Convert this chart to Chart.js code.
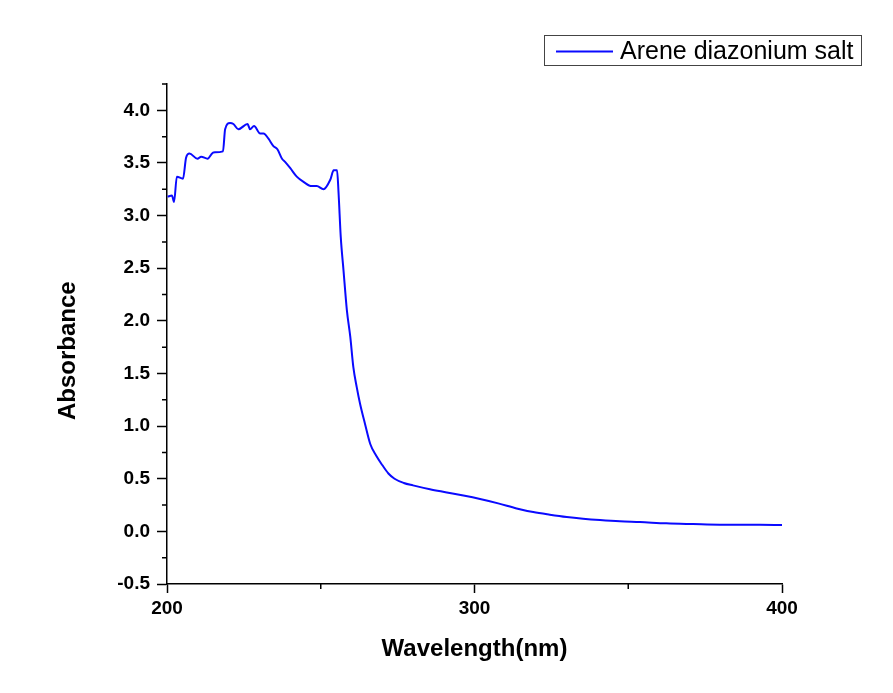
<!DOCTYPE html>
<html>
<head>
<meta charset="utf-8">
<title>Arene diazonium salt - UV-Vis</title>
<script src="https://cdn.jsdelivr.net/npm/chart.js@4.4.1/dist/chart.umd.min.js"></script>
<style>
  html, body { margin: 0; padding: 0; background: #fff; }
  #wrap { width: 893px; height: 693px; }
</style>
</head>
<body>
<div id="wrap"><canvas id="uv-chart" width="893" height="693"></canvas></div>
<script>
// values
const seriesLabel = 'Arene diazonium salt';
const wavelength = [
  200.2, 201.6, 202.3, 203.2, 205.2, 206.2, 207.3, 209.9, 211.1, 213.2,
  215.1, 218.2, 218.9, 220.5, 221.6, 223.2, 226.2, 227.0, 228.3, 230.3,
  231.4, 233.0, 234.6, 235.9, 237.4, 238.4, 240.1, 242.2, 244.4, 247.1,
  248.7, 250.9, 253.1, 254.2, 255.3, 255.8, 256.5, 257.4, 258.5, 259.6,
  260.6, 261.7, 262.8, 264.4, 266.1, 268.0, 270.0, 272.0, 274.0, 277.0,
  280.0, 285.5, 291.0, 296.4, 301.8, 307.7, 313.7, 319.1, 324.5, 330.0,
  335.3, 340.8, 347.3, 353.8, 362.4, 371.1, 379.8, 392.8, 400.0
];
const absorbance = [
  3.18, 3.19, 3.13, 3.37, 3.35, 3.55, 3.59, 3.54, 3.56, 3.54,
  3.60, 3.61, 3.82, 3.88, 3.87, 3.82, 3.87, 3.82, 3.85, 3.78,
  3.78, 3.73, 3.66, 3.63, 3.54, 3.51, 3.45, 3.37, 3.32, 3.28,
  3.28, 3.25, 3.34, 3.43, 3.43, 3.21, 2.80, 2.48, 2.10, 1.85,
  1.56, 1.37, 1.21, 1.02, 0.83, 0.72, 0.63, 0.55, 0.50, 0.46,
  0.437, 0.40, 0.37, 0.34, 0.307, 0.266, 0.218, 0.183, 0.158, 0.136,
  0.12, 0.107, 0.095, 0.088, 0.076, 0.069, 0.063, 0.063, 0.06
];

const xTicks = [200, 300, 400];
const xMinorTicks = [250, 350];
const yTicks = [-0.5, 0, 0.5, 1.0, 1.5, 2.0, 2.5, 3.0, 3.5, 4.0];
const yMinorTicks = [-0.25, 0.25, 0.75, 1.25, 1.75, 2.25, 2.75, 3.25, 3.75, 4.25];

const FONT = '"Liberation Sans", Arial, sans-serif';

// short ticks between the labelled ones
const minorTicks = {
  id: 'minorTicks',
  afterDraw(chart) {
    const ctx = chart.ctx;
    const area = chart.chartArea;
    const x = chart.scales.x, y = chart.scales.y;
    ctx.save();
    ctx.strokeStyle = '#000';
    ctx.lineWidth = 1.5;
    ctx.beginPath();
    yMinorTicks.forEach(v => {
      const py = y.getPixelForValue(v);
      ctx.moveTo(area.left - 5, py);
      ctx.lineTo(area.left, py);
    });
    xMinorTicks.forEach(v => {
      const px = x.getPixelForValue(v);
      ctx.moveTo(px, area.bottom);
      ctx.lineTo(px, area.bottom + 5);
    });
    ctx.stroke();
    ctx.restore();
  }
};

// boxed legend in the top right corner
const boxLegend = {
  id: 'boxLegend',
  afterDraw(chart) {
    const ctx = chart.ctx;
    const ds = chart.data.datasets[0];
    ctx.save();
    ctx.strokeStyle = '#444';
    ctx.lineWidth = 1;
    ctx.strokeRect(544.5, 35.5, 317, 30);
    ctx.strokeStyle = ds.borderColor;
    ctx.lineWidth = ds.borderWidth;
    ctx.beginPath();
    ctx.moveTo(556, 51.5);
    ctx.lineTo(613, 51.5);
    ctx.stroke();
    ctx.fillStyle = '#000';
    ctx.font = '25px ' + FONT;
    ctx.textBaseline = 'middle';
    ctx.fillText(ds.label, 620, 52);
    ctx.restore();
  }
};

const ctx = document.getElementById('uv-chart').getContext('2d');
const chart = new Chart(ctx, {
  type: 'line',
  data: {
    datasets: [{
      label: seriesLabel,
      data: wavelength.map((w, i) => ({ x: w, y: absorbance[i] })),
      borderColor: '#0a0aff',
      borderWidth: 2,
      pointRadius: 0,
      cubicInterpolationMode: 'monotone',
      fill: false
    }]
  },
  options: {
    responsive: false,
    devicePixelRatio: 1,
    animation: false,
    layout: { padding: { top: 84, right: 111, left: 0, bottom: 0 } },
    plugins: {
      legend: { display: false },
      tooltip: { enabled: false }
    },
    scales: {
      x: {
        type: 'linear',
        min: 200,
        max: 400,
        afterBuildTicks: s => { s.ticks = xTicks.map(v => ({ value: v })); },
        afterFit: s => { s.height = 109; },
        border: { display: true, color: '#000', width: 1.5 },
        grid: { drawOnChartArea: false, drawTicks: true, tickLength: 9, tickColor: '#000', tickWidth: 1.5 },
        ticks: { color: '#000', padding: 4, maxRotation: 0, font: { family: FONT, size: 19, weight: 'bold' } },
        title: {
          display: true,
          text: 'Wavelength(nm)',
          color: '#000',
          padding: { top: 0, bottom: 29 },
          font: { family: FONT, size: 24, weight: 'bold' }
        }
      },
      y: {
        type: 'linear',
        min: -0.5,
        max: 4.25,
        afterBuildTicks: s => { s.ticks = yTicks.map(v => ({ value: v })); },
        afterFit: s => { s.width = 167; },
        border: { display: true, color: '#000', width: 1.5 },
        grid: { drawOnChartArea: false, drawTicks: true, tickLength: 10, tickColor: '#000', tickWidth: 1.5 },
        ticks: {
          color: '#000',
          padding: 7,
          font: { family: FONT, size: 19, weight: 'bold' },
          callback: v => v.toFixed(1)
        },
        title: {
          display: true,
          text: 'Absorbance     ',
          color: '#000',
          padding: { top: 54, bottom: 0 },
          font: { family: FONT, size: 24, weight: 'bold' }
        }
      }
    }
  },
  plugins: [minorTicks, boxLegend]
});
</script>
</body>
</html>
